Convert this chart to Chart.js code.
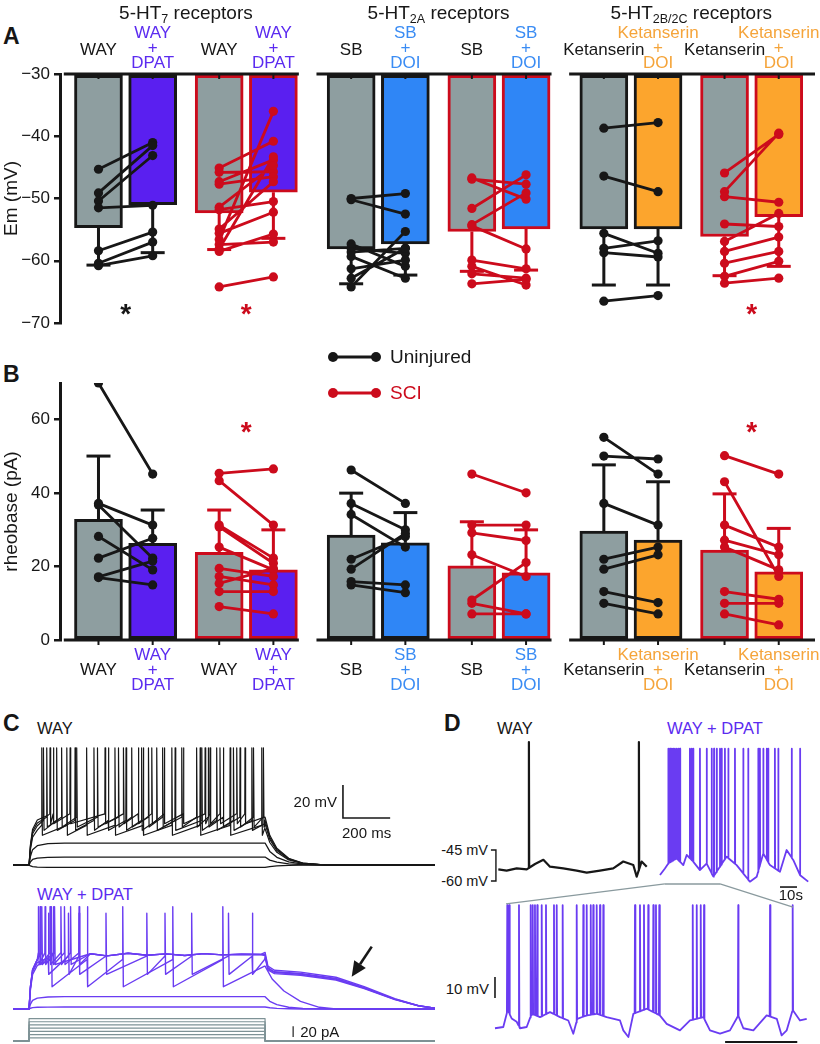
<!DOCTYPE html>
<html>
<head>
<meta charset="utf-8">
<script src="https://cdn.jsdelivr.net/npm/chart.js@4.4.1/dist/chart.umd.min.js"></script>
<style>
  html, body { margin: 0; padding: 0; background: #fff; }
  body { position: relative; width: 820px; height: 1044px; overflow: hidden; font-family: "Liberation Sans", Arial, sans-serif; }
  canvas { position: absolute; }
  .lbl { position: absolute; white-space: nowrap; line-height: 1; transform: translateY(-50%); font-size: 16.5px; color: #161616; }
  .big { font-weight: bold; font-size: 23px; }
</style>
</head>
<body>
<div class="lbl big" style="left:3px;top:36px">A</div>
<div class="lbl big" style="left:3px;top:374px">B</div>
<div class="lbl big" style="left:3px;top:723px">C</div>
<div class="lbl big" style="left:444px;top:723px">D</div>
<div class="lbl" style="left:37px;top:728px">WAY</div>
<div class="lbl" style="left:37px;top:894px;color:#5b2bf0">WAY + DPAT</div>
<div class="lbl" style="left:497px;top:728px">WAY</div>
<div class="lbl" style="left:667px;top:728px;color:#5b2bf0">WAY + DPAT</div>
<div class="lbl" style="right:332px;top:850px;font-size:14.5px">-45 mV</div>
<div class="lbl" style="right:332px;top:881px;font-size:14.5px">-60 mV</div>
<div class="lbl" style="right:331px;top:988px;font-size:15px">10 mV</div>
<script>
// ---------------- panels A and B ----------------
// bar order inside each receptor group: uninjured antagonist, uninjured +agonist, SCI antagonist, SCI +agonist
const receptor = ["5-HT", "5-HT", "5-HT"];
const receptorSub = ["7", "2A", "2B/2C"];
const antagonists = ["WAY", "SB", "Ketanserin"];
const agonists = ["DPAT", "DOI", "DOI"];

const emMean = [-54.7, -51.0, -52.3, -49.0, -58.1, -57.3, -55.3, -54.9, -54.9, -54.9, -56.1, -52.9];
const emSem = [6.0, 7.7, 5.9, 7.4, 5.6, 5.0, 6.4, 6.6, 9.0, 9.0, 6.3, 8.0];
const rbMean = [32.9, 26.3, 23.9, 19.1, 28.6, 26.5, 20.2, 18.3, 29.7, 27.2, 24.5, 18.6];
const rbSem = [17.2, 9.1, 11.5, 10.9, 11.4, 8.2, 12.0, 11.7, 18.0, 15.9, 15.3, 11.8];

// paired cells, one list per comparison: WAY uninj, WAY SCI, SB uninj, SB SCI, Ket uninj, Ket SCI
const emPre = [
  [-45.3, -49.1, -50.4, -51.5, -58.4, -60.4, -60.8],
  [-45.1, -45.8, -47.3, -47.7, -51.4, -51.8, -54.9, -55.6, -56.6, -57.4, -58.1, -58.5, -64.2],
  [-50.0, -50.2, -57.3, -58.0, -58.6, -59.3, -61.3, -62.8, -64.2],
  [-46.7, -46.9, -51.6, -54.2, -54.4, -59.9, -60.9, -62.1, -63.7],
  [-38.7, -46.4, -55.6, -58.0, -58.7, -66.5],
  [-45.9, -48.9, -49.7, -54.1, -56.9, -58.5, -60.4, -62.5, -63.6]
];
const emPost = [
  [-41.0, -41.5, -43.1, -51.1, -55.4, -57.0, -59.2],
  [-40.8, -45.7, -43.8, -46.5, -44.7, -50.5, -47.3, -52.2, -36.0, -57.0, -43.3, -55.7, -62.6],
  [-49.2, -52.5, -60.9, -58.8, -58.0, -62.8, -59.9, -58.0, -55.3],
  [-50.1, -47.7, -46.2, -49.1, -58.1, -61.3, -63.9, -62.8, -63.0],
  [-37.8, -48.9, -58.8, -56.8, -59.4, -65.6],
  [-39.7, -39.5, -50.6, -54.5, -52.4, -56.2, -58.5, -60.1, -62.8]
];
const rbPre = [
  [70, 37.2, 36.8, 28.2, 22.3, 17.2, 17.0],
  [45.4, 43.4, 31.3, 30.8, 25.3, 19.5, 17.3, 15.4, 13.2, 9.1],
  [46.3, 37.2, 34.2, 22.0, 19.3, 15.9, 15.0],
  [45.2, 31.3, 29.2, 23.2, 10.9, 10.0, 7.1],
  [55.2, 50.1, 37.2, 22.0, 19.3, 13.2, 10.0],
  [50.2, 43.1, 31.3, 27.2, 25.3, 13.2, 10.0, 7.1]
];
const rbPost = [
  [45.2, 31.3, 22.3, 19.1, 27.7, 21.5, 15.0],
  [46.6, 31.3, 22.3, 20.9, 19.1, 17.3, 15.0, 19.5, 13.2, 7.1],
  [37.2, 30.0, 25.3, 28.2, 29.0, 15.0, 12.9],
  [40.1, 31.3, 27.1, 17.3, 21.1, 7.1, 7.1],
  [45.2, 49.3, 31.3, 25.3, 23.2, 10.2, 7.1],
  [45.2, 17.3, 25.3, 23.2, 19.1, 11.1, 10.0, 4.1]
];
const emStars = [0, 1, 5];
const rbStars = [1, 5];

const FONT = '"Liberation Sans", Arial, Helvetica, sans-serif';
const BLACK = '#171717', RED = '#cc0b1c', GRAY = '#8e9ea0';
const drugFill = ['#5a1ff0', '#2f86f6', '#fca52d'];
const drugText = ['#5b2bf0', '#3a8cf4', '#f5a43a'];
const TRACE_PURPLE = '#6a3cf2', STEP_GRAY = '#7e9296';

Chart.defaults.font.family = FONT;
Chart.defaults.color = BLACK;

const BOX = {
  A: [0, 0, 820, 340], B: [0, 330, 820, 370],
  C1: [13, 705, 422, 175], C2: [13, 895, 422, 149],
  D1: [440, 735, 212, 160], D2: [655, 735, 160, 175], D3: [440, 880, 375, 164]
};
function makeCanvas(key) {
  const [l, t, w, h] = BOX[key];
  const c = document.createElement('canvas');
  c.width = w; c.height = h;
  c.style.left = l + 'px'; c.style.top = t + 'px';
  c.style.width = w + 'px'; c.style.height = h + 'px';
  document.body.appendChild(c);
  return c;
}

// horizontal placement of the 12 bars (units of one bar pitch)
const SLOT = [0, 1, 2.227, 3.227];
const GROUP_STEP = 4.662;
const barX = b => Math.floor(b / 4) * GROUP_STEP + SLOT[b % 4];
const isUninj = b => (b % 4) < 2;

function drawReceptorTitle(ctx, cx, y, main, sub, rest) {
  ctx.font = `19px ${FONT}`;
  const w1 = ctx.measureText(main).width, w3 = ctx.measureText(rest).width;
  ctx.font = `12.5px ${FONT}`;
  const w2 = ctx.measureText(sub).width;
  let x0 = cx - (w1 + w2 + w3) / 2;
  ctx.textAlign = 'left'; ctx.textBaseline = 'alphabetic'; ctx.fillStyle = BLACK;
  ctx.font = `19px ${FONT}`; ctx.fillText(main, x0, y);
  ctx.font = `12.5px ${FONT}`; ctx.fillText(sub, x0 + w1, y + 4);
  ctx.font = `19px ${FONT}`; ctx.fillText(rest, x0 + w1 + w2, y);
}

function decor(isA) {
  return {
    id: 'decor' + (isA ? 'A' : 'B'),
    afterDraw(chart) {
      const { ctx, chartArea: area, scales: { x, y } } = chart;
      const yb = y.getPixelForValue(isA ? -30 : 0);
      ctx.save();
      ctx.strokeStyle = BLACK; ctx.lineWidth = 3;
      for (let g = 0; g < 3; g++) {
        const xa = x.getPixelForValue(barX(4 * g) - 0.64);
        const xb = g === 2 ? area.right : x.getPixelForValue(barX(4 * g + 3) + 0.47);
        ctx.beginPath(); ctx.moveTo(xa, yb); ctx.lineTo(xb, yb); ctx.stroke();
      }
      ctx.lineWidth = 2;
      for (let b = 0; b < 12; b++) {
        const px = x.getPixelForValue(barX(b));
        ctx.beginPath(); ctx.moveTo(px, yb); ctx.lineTo(px, yb + 5); ctx.stroke();
      }
      // drug labels
      ctx.font = `17px ${FONT}`; ctx.textAlign = 'center'; ctx.textBaseline = 'middle';
      const single = isA ? area.top - 24 : area.bottom + 30;
      const stack = isA ? [area.top - 41, area.top - 26, area.top - 11] : [area.bottom + 15, area.bottom + 30, area.bottom + 45];
      for (let b = 0; b < 12; b++) {
        const g = Math.floor(b / 4), px = x.getPixelForValue(barX(b));
        if (b % 2 === 0) { ctx.fillStyle = BLACK; ctx.fillText(antagonists[g], px, single); }
        else {
          ctx.fillStyle = drugText[g];
          [antagonists[g], '+', agonists[g]].forEach((t, k) => ctx.fillText(t, px, stack[k]));
        }
      }
      if (isA) {
        for (let g = 0; g < 3; g++) {
          const cx = (x.getPixelForValue(barX(4 * g)) + x.getPixelForValue(barX(4 * g + 3))) / 2;
          drawReceptorTitle(ctx, cx, 19, receptor[g], receptorSub[g], ' receptors');
        }
      }
      // significance stars
      ctx.font = `bold 28px ${FONT}`; ctx.textBaseline = 'alphabetic'; ctx.textAlign = 'center';
      (isA ? emStars : rbStars).forEach(p => {
        const px = (x.getPixelForValue(barX(2 * p)) + x.getPixelForValue(barX(2 * p + 1))) / 2;
        const py = y.getPixelForValue(isA ? -67.4 : 58.5);
        ctx.fillStyle = p % 2 ? RED : BLACK;
        ctx.fillText('*', px, py + 16);
      });
      if (!isA) {
        [[BLACK, 'Uninjured', 27], [RED, 'SCI', 63]].forEach(([col, txt, yy]) => {
          ctx.strokeStyle = col; ctx.fillStyle = col; ctx.lineWidth = 3;
          ctx.beginPath(); ctx.moveTo(333, yy); ctx.lineTo(376, yy); ctx.stroke();
          [333, 376].forEach(px => { ctx.beginPath(); ctx.arc(px, yy, 5, 0, Math.PI * 2); ctx.fill(); });
          ctx.font = `19px ${FONT}`; ctx.textAlign = 'left'; ctx.textBaseline = 'middle';
          ctx.fillText(txt, 390, yy + 1);
        });
      }
      ctx.restore();
    }
  };
}

function panelChart(key, means, sems, pre, post, isA) {
  const dir = isA ? -1 : 1;
  const fills = means.map((m, b) => b % 2 ? drugFill[Math.floor(b / 4)] : GRAY);
  const edges = means.map((m, b) => isUninj(b) ? BLACK : RED);
  const datasets = [{
    type: 'bar', data: means.map((m, b) => ({ x: barX(b), y: m })), base: isA ? -30 : 0,
    backgroundColor: fills, borderColor: edges, borderWidth: 3, borderSkipped: false,
    barThickness: 48, order: 3
  }];
  [BLACK, RED].forEach((col, c) => {
    const data = [];
    means.forEach((m, b) => {
      if (isUninj(b) === (c === 0)) data.push({ x: barX(b), y: m }, { x: barX(b), y: m + dir * sems[b], cap: true }, { x: barX(b), y: null });
    });
    datasets.push({
      type: 'line', data, borderColor: col, borderWidth: 3, pointStyle: 'line',
      pointRadius: ctx => (ctx.raw && ctx.raw.cap ? 12 : 0), pointBorderColor: col, pointBorderWidth: 3,
      spanGaps: false, order: 2
    });
  });
  pre.forEach((list, p) => {
    const col = p % 2 ? RED : BLACK;
    const x0 = barX(2 * p), x1 = barX(2 * p + 1);
    const data = [];
    list.forEach((v, i) => data.push({ x: x0, y: v }, { x: x1, y: post[p][i] }, { x: x1, y: null }));
    datasets.push({
      type: 'line', data, borderColor: col, borderWidth: 2.8, pointRadius: 4.6,
      pointBackgroundColor: col, pointBorderColor: col, pointBorderWidth: 0, spanGaps: false, order: 1
    });
  });
  return new Chart(makeCanvas(key), {
    type: 'bar',
    data: { datasets },
    options: {
      responsive: false, animation: false, events: [],
      layout: { padding: isA ? { top: 74, bottom: 17, left: 0, right: 5 } : { top: 53, bottom: 60, left: 0, right: 5 } },
      plugins: { legend: { display: false }, tooltip: { enabled: false } },
      scales: {
        x: { type: 'linear', display: false, offset: false, min: -0.71, max: 13.22 },
        y: {
          min: isA ? -70 : 0, max: isA ? -30 : 70,
          afterBuildTicks: s => { s.ticks = s.ticks.filter(t => t.value % (isA ? 10 : 20) === 0); },
          ticks: { stepSize: isA ? 10 : 20, color: BLACK, font: { size: 17 }, padding: 4,
            callback: v => (v < 0 ? '\u2212' + Math.abs(v) : String(v)) },
          grid: { drawOnChartArea: false, tickLength: 6, color: BLACK, lineWidth: 2.5 },
          border: { display: true, color: BLACK, width: 3 },
          title: { display: true, text: isA ? 'Em (mV)' : 'rheobase (pA)', color: BLACK, font: { size: 19 }, padding: 0 },
          afterFit: s => { s.width = 60; }
        }
      }
    },
    plugins: [decor(isA)]
  });
}

panelChart('A', emMean, emSem, emPre, emPost, true);
panelChart('B', rbMean, rbSem, rbPre, rbPost, false);

// ---------------- panel C: current-clamp steps (times in ms, mV above rest) ----------------
const C_T0 = -68, C_T1 = 1720, C_REST = -60;
const riseT = [0, 6, 15, 35, 80, 150];
const riseFrac = [0, 0.4, 0.7, 0.88, 0.97, 1];
const fastTailT = [1000, 1020, 1050, 1100, 1160, 1260, 1720];
const fastTailFrac = [1, 0.62, 0.35, 0.14, 0.04, 0, 0];

const waySubLevels = [-1.5, 4.8, 13.3];
const waySpikes = [
  [54, 160, 244, 364, 484, 605, 725, 852, 986],
  [61, 117, 195, 275, 336, 411, 477, 541, 619, 732, 795, 866, 944],
  [75, 138, 202, 290, 379, 435, 506, 566, 647, 710, 760, 823, 894, 951, 993],
  [89, 103, 174, 322, 400, 463, 520, 573, 654, 746, 767, 809, 880, 915]
];
const wayTrough = [18, 21, 23, 25];
const wayThresh = [24, 27, 29, 31];
const wayPeak = 71;

const dpSubLevels = [1.2, 7.5];
const dpSawSpikes = [[95, 247, 397, 609, 821], [82, 167, 212, 326, 499, 576, 689, 845, 946]];
const dpSawTrough = [13.5, 21];
const dpSawThresh = [30, 32];
const dpSawPeak = [62, 58];
const dpSawEnd = [26, 30];
const dpMidTailT = [1000, 1030, 1080, 1150, 1230, 1300, 1720];
const dpMidTailFrac = [1, 0.7, 0.42, 0.18, 0.04, 0, 0];
const dpBlockSpikes = [[40, 68, 108], [47, 89, 135, 176], [54, 103, 150, 212]];
const dpBlockWobbleT = [260, 330, 420, 500, 580, 660, 740, 820, 900, 980];
const dpBlockWobbleV = [33.5, 32.2, 33.8, 32.6, 33.4, 32.4, 33.6, 32.8, 33.2, 33];
const dpBlockPeak = 62;
const dpPlateauTailT = [1000, 1012, 1040, 1150, 1300, 1420, 1550, 1650, 1720];
const dpPlateauTailV = [33, 25, 22.6, 21.5, 18.5, 13, 6, 2, 0.5];
const dpPlateauScale = [0.95, 1, 1.04, 0.98];
const stepsPA = [6, 12, 18, 24, 30, 36, 42];

function sweepPts(level, spikes, trough, thr, peak, tailT, tailV, platT, platV) {
  const pts = [{ x: C_T0, y: C_REST }, { x: 0, y: C_REST }];
  const first = spikes.length ? spikes[0] : Infinity;
  const target = spikes.length ? thr : level;
  for (let i = 1; i < riseT.length; i++) if (riseT[i] < first - 1) pts.push({ x: riseT[i], y: C_REST + target * riseFrac[i] });
  spikes.forEach(s => pts.push({ x: s - 1, y: C_REST + thr }, { x: s, y: C_REST + peak }, { x: s + 2.5, y: C_REST + trough }));
  const last = spikes.length ? spikes[spikes.length - 1] : 0;
  if (platT) platT.forEach((t, i) => { if (t > last + 10) pts.push({ x: t, y: C_REST + platV[i] }); });
  else if (spikes.length) pts.push({ x: 998, y: C_REST + level });
  tailT.forEach((t, i) => pts.push({ x: t, y: C_REST + tailV[i] }));
  return pts;
}
const trace = (data, color, width, axis) => ({ data, borderColor: color, borderWidth: width, pointRadius: 0, fill: false, yAxisID: axis || 'y' });

function traceChart(key, datasets, xr, yr, plugin, extraScales) {
  return new Chart(makeCanvas(key), {
    type: 'line',
    data: { datasets },
    options: {
      responsive: false, animation: false, events: [],
      layout: { padding: 0 },
      plugins: { legend: { display: false }, tooltip: { enabled: false } },
      elements: { line: { tension: 0, borderJoinStyle: 'round' } },
      scales: Object.assign({
        x: { type: 'linear', display: false, min: xr[0], max: xr[1] },
        y: { type: 'linear', display: false, min: yr[0], max: yr[1] }
      }, extraScales || {})
    },
    plugins: plugin ? [plugin] : []
  });
}

const wayTraces = [];
waySubLevels.forEach(l => wayTraces.push(trace(sweepPts(l, [], 0, 0, 0, fastTailT, fastTailFrac.map(f => f * l)), BLACK, 1.3)));
waySpikes.forEach((sp, k) => {
  const end = wayThresh[k] - 2;
  wayTraces.push(trace(sweepPts(end, sp, wayTrough[k], wayThresh[k], wayPeak, fastTailT, fastTailFrac.map(f => f * end)), BLACK, 1.2));
});

traceChart('C1', wayTraces, [C_T0, C_T1], [-69.1, 37], {
  id: 'cScale',
  afterDraw(chart) {
    const { ctx, scales: { x, y } } = chart;
    const x0 = x.getPixelForValue(1330), x1 = x.getPixelForValue(1530);
    const y0 = y.getPixelForValue(-31.5), y1 = y.getPixelForValue(-11.5);
    ctx.save();
    ctx.strokeStyle = BLACK; ctx.lineWidth = 1.6;
    ctx.beginPath(); ctx.moveTo(x0, y1); ctx.lineTo(x0, y0); ctx.lineTo(x1, y0); ctx.stroke();
    ctx.fillStyle = BLACK; ctx.font = `15px ${FONT}`; ctx.textBaseline = 'middle';
    ctx.textAlign = 'right'; ctx.fillText('20 mV', x0 - 6, (y0 + y1) / 2 + 1);
    ctx.textAlign = 'center'; ctx.fillText('200 ms', (x0 + x1) / 2, y0 + 16);
    ctx.restore();
  }
});

const dpTraces = [];
stepsPA.forEach(I => dpTraces.push(trace([{ x: C_T0, y: 0 }, { x: 0, y: 0 }, { x: 0, y: I }, { x: 1000, y: I }, { x: 1000, y: 0 }, { x: C_T1, y: 0 }], STEP_GRAY, 1.2, 'y2')));
dpSubLevels.forEach(l => dpTraces.push(trace(sweepPts(l, [], 0, 0, 0, fastTailT, fastTailFrac.map(f => f * l)), TRACE_PURPLE, 1.4)));
dpTraces.push(trace(sweepPts(dpSawEnd[0], dpSawSpikes[0], dpSawTrough[0], dpSawThresh[0], dpSawPeak[0], dpMidTailT, dpMidTailFrac.map(f => f * dpSawEnd[0])), TRACE_PURPLE, 1.4));
dpTraces.push(trace(sweepPts(dpSawEnd[1], dpSawSpikes[1], dpSawTrough[1], dpSawThresh[1], dpSawPeak[1], dpPlateauTailT, dpPlateauTailV.map(v => v * dpPlateauScale[0])), TRACE_PURPLE, 1.4));
dpBlockSpikes.forEach((sp, k) => dpTraces.push(trace(sweepPts(33, sp, 27, 34, dpBlockPeak, dpPlateauTailT, dpPlateauTailV.map(v => v * dpPlateauScale[k + 1]), dpBlockWobbleT, dpBlockWobbleV), TRACE_PURPLE, 1.4)));

traceChart('C2', dpTraces, [C_T0, C_T1], [-81.2, 9.1], {
  id: 'cArrow',
  afterDraw(chart) {
    const { ctx, scales: { x, y, y2 } } = chart;
    ctx.save();
    // plateau arrow
    const ax0 = x.getPixelForValue(1452), ay0 = y.getPixelForValue(-22.2);
    const ax1 = x.getPixelForValue(1367), ay1 = y.getPixelForValue(-40.4);
    const ang = Math.atan2(ay1 - ay0, ax1 - ax0), L = 15, W = 7;
    const bx = ax1 - Math.cos(ang) * L, by = ay1 - Math.sin(ang) * L;
    ctx.strokeStyle = BLACK; ctx.fillStyle = BLACK; ctx.lineWidth = 2.6;
    ctx.beginPath(); ctx.moveTo(ax0, ay0); ctx.lineTo(bx, by); ctx.stroke();
    ctx.beginPath(); ctx.moveTo(ax1, ay1);
    ctx.lineTo(bx + Math.sin(ang) * W, by - Math.cos(ang) * W);
    ctx.lineTo(bx - Math.sin(ang) * W, by + Math.cos(ang) * W);
    ctx.closePath(); ctx.fill();
    // current scale
    const px = x.getPixelForValue(1119);
    ctx.strokeStyle = '#333'; ctx.lineWidth = 1.3;
    ctx.beginPath(); ctx.moveTo(px, y2.getPixelForValue(7.5)); ctx.lineTo(px, y2.getPixelForValue(27.5)); ctx.stroke();
    ctx.fillStyle = BLACK; ctx.font = `15px ${FONT}`; ctx.textAlign = 'left'; ctx.textBaseline = 'middle';
    ctx.fillText('20 pA', px + 7, y2.getPixelForValue(16.8) + 1);
    ctx.restore();
  }
}, { y2: { type: 'linear', display: false, min: -5.6, max: 273 } });

// ---------------- panel D: spontaneous firing (times in s, mV) ----------------
const dWayT = [0.2, 5.1, 11, 16.9, 21.8, 26.7, 30.6, 38.4, 46.3, 52.2, 60, 67.8, 73.7, 79.6, 81.6, 84.5, 87.5];
const dWayV = [-54.4, -55.0, -53.9, -54.4, -51.8, -49.8, -53.1, -53.9, -55.0, -56.0, -55.0, -53.9, -50.6, -52.3, -57.9, -50.6, -53.1];
const dWaySpikes = [18.2, 82.9];
const dDpatT = [0, 2.9, 4.9, 9.8, 13.7, 15.7, 19.6, 23.5, 27.5, 31.4, 35.3, 39.2, 45.1, 52.9, 56.9, 60.8, 64.7, 70.6, 74.5, 78.4, 82.4, 87.2];
const dDpatV = [-57.1, -53.9, -51.5, -49.0, -52.3, -47.4, -50.6, -54.7, -51.5, -57.9, -53.1, -48.2, -52.3, -60.3, -57.9, -46.6, -52.3, -55.5, -45.0, -49.8, -57.1, -60.3];
const dDpatSpikes = [4.9, 5.9, 6.9, 7.8, 8.8, 9.8, 10.8, 11.8, 17.6, 18.6, 19.6, 23.5, 27.5, 30.4, 31.8, 33.4, 35.3, 36.3, 38.2, 40.2, 44.1, 49.0, 51.9, 57.8, 58.8, 60.8, 62.8, 63.7, 67.6, 69.6, 77.5, 82.4];
const dZoomT = [0, 0.85, 1.3, 1.71, 2.22, 2.56, 3.25, 3.76, 4.62, 5.64, 6.67, 7.52, 8.03, 8.44, 9.4, 10.43, 11.45, 12.82, 13.16, 13.68, 14.19, 15.56, 16.92, 17.61, 18.97, 20.0, 21.37, 22.05, 23.08, 24.1, 24.96, 25.47, 26.5, 27.86, 28.9, 29.4, 29.92, 30.53, 31.28, 31.97];
const dZoomV = [-55.6, -55.0, -46.9, -50.9, -52.5, -55.6, -55.0, -48.7, -50.3, -47.9, -50.3, -51.9, -58.2, -51.1, -49.5, -48.7, -50.3, -51.9, -56.6, -59.8, -48.7, -46.3, -49.5, -53.5, -56.6, -51.9, -50.3, -56.6, -58.2, -56.6, -49.5, -55.6, -56.6, -49.5, -51.1, -59.0, -56.6, -46.9, -51.9, -51.1];
const dZoomSpikes = [1.26, 1.47, 2.46, 3.66, 3.87, 4.10, 4.34, 4.79, 5.23, 6.05, 6.33, 6.94, 8.38, 9.06, 9.41, 9.82, 10.08, 10.43, 10.77, 11.11, 14.36, 14.87, 15.28, 15.72, 16.24, 16.51, 16.85, 20.28, 20.69, 21.1, 21.44, 24.95, 28.21, 30.53];
const zoomWindow = [2.9, 35.3];

// spikes sit on the recorded baseline: the foot is taken on the baseline line at the spike time
function spikeTrace(keyT, keyV, spikes, peak, w) {
  const pts = keyT.map((t, i) => ({ x: t, y: keyV[i] }));
  const onLine = s => {
    let i = 0;
    while (i < keyT.length - 2 && keyT[i + 1] < s) i++;
    const f = Math.min(1, Math.max(0, (s - keyT[i]) / (keyT[i + 1] - keyT[i])));
    return keyV[i] + f * (keyV[i + 1] - keyV[i]);
  };
  spikes.forEach(s => pts.push({ x: s - w, y: onLine(s - w) }, { x: s, y: peak }, { x: s + w, y: onLine(s + w) }));
  return pts.sort((a, b) => a.x - b.x);
}

traceChart('D1', [trace(spikeTrace(dWayT, dWayV, dWaySpikes, 7.2, 0.15), BLACK, 2.2)], [-34.1, 90.6], [-66.8, 10.6], {
  id: 'dBracket',
  afterDraw(chart) {
    const { ctx, scales: { x, y } } = chart;
    const px = x.getPixelForValue(-1.2), ya = y.getPixelForValue(-45), yb = y.getPixelForValue(-60);
    ctx.save(); ctx.strokeStyle = BLACK; ctx.lineWidth = 1.4;
    ctx.beginPath(); ctx.moveTo(px - 5, ya); ctx.lineTo(px, ya); ctx.lineTo(px, yb); ctx.lineTo(px - 5, yb); ctx.stroke();
    ctx.restore();
  }
});

const dTop = traceChart('D2', [trace(spikeTrace(dDpatT, dDpatV, dDpatSpikes, 4, 0.12), TRACE_PURPLE, 1.8)], [-2.94, 91.2], [-74.0, 10.6], {
  id: 'dTime',
  afterDraw(chart) {
    const { ctx, scales: { x, y } } = chart;
    ctx.save();
    ctx.strokeStyle = '#8a9a9e'; ctx.lineWidth = 1.4;
    const yz = y.getPixelForValue(-61.4);
    ctx.beginPath(); ctx.moveTo(x.getPixelForValue(zoomWindow[0]), yz); ctx.lineTo(x.getPixelForValue(zoomWindow[1]), yz); ctx.stroke();
    ctx.strokeStyle = BLACK; ctx.lineWidth = 1.6;
    const ys = y.getPixelForValue(-62.9);
    ctx.beginPath(); ctx.moveTo(x.getPixelForValue(70.6), ys); ctx.lineTo(x.getPixelForValue(80.6), ys); ctx.stroke();
    ctx.fillStyle = BLACK; ctx.font = `15px ${FONT}`; ctx.textAlign = 'center'; ctx.textBaseline = 'middle';
    ctx.fillText('10s', x.getPixelForValue(77), y.getPixelForValue(-67.3));
    ctx.restore();
  }
});

traceChart('D3', [trace(spikeTrace(dZoomT, dZoomV, dZoomSpikes, 3, 0.04), TRACE_PURPLE, 1.8)], [-5.64, 32.82], [-63.1, 15], {
  id: 'dZoom',
  afterDraw(chart) {
    const { ctx, scales: { x, y } } = chart;
    const ox = BOX.D2[0] - BOX.D3[0], oy = BOX.D2[1] - BOX.D3[1];
    const tx = dTop.scales.x, ty = dTop.scales.y;
    const yTop = ty.getPixelForValue(-61.4) + oy;
    ctx.save();
    ctx.strokeStyle = '#8a9a9e'; ctx.lineWidth = 1.2;
    ctx.beginPath();
    ctx.moveTo(tx.getPixelForValue(zoomWindow[0]) + ox, yTop); ctx.lineTo(x.getPixelForValue(1.13), y.getPixelForValue(3.6));
    ctx.moveTo(tx.getPixelForValue(zoomWindow[1]) + ox, yTop); ctx.lineTo(x.getPixelForValue(30.56), y.getPixelForValue(2.1));
    ctx.stroke();
    ctx.strokeStyle = BLACK; ctx.lineWidth = 1.6;
    const px = x.getPixelForValue(0);
    ctx.beginPath(); ctx.moveTo(px, y.getPixelForValue(-31.2)); ctx.lineTo(px, y.getPixelForValue(-41.2)); ctx.stroke();
    ctx.lineWidth = 2;
    const yb = y.getPixelForValue(-62.1);
    ctx.beginPath(); ctx.moveTo(x.getPixelForValue(23.6), yb); ctx.lineTo(x.getPixelForValue(31), yb); ctx.stroke();
    ctx.restore();
  }
});
</script>
</body>
</html>
